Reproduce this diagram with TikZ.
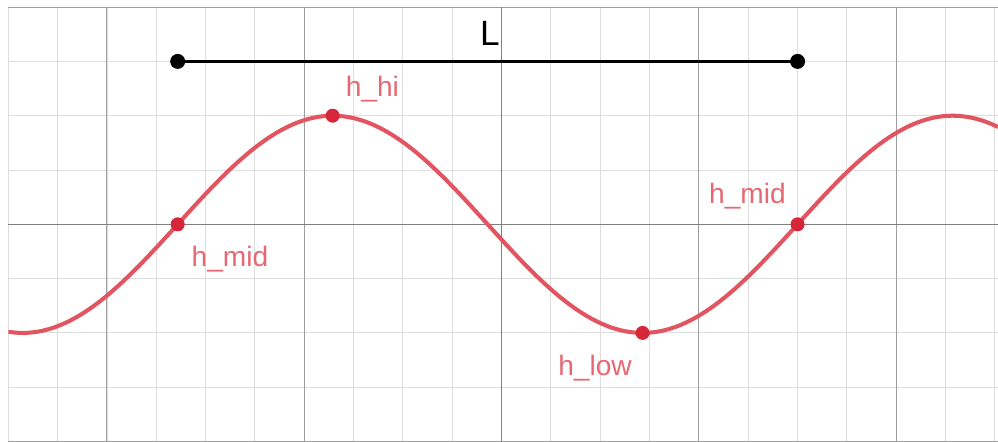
\documentclass[tikz,border=0pt]{standalone}
\usepackage{fontspec}
\setmainfont{Liberation Sans}
\usepackage{xcolor}
\usepackage{tikz}

\definecolor{wavered}{RGB}{226,84,96}
\definecolor{dotred}{RGB}{214,38,58}
\definecolor{labelred}{RGB}{229,104,114}

\begin{document}
\begin{tikzpicture}[
  x=0.9866cm, y=1.086cm,
  minorgrid/.style={draw=black!13, line width=0.5pt},
  majorgrid/.style={draw=black!38, line width=0.6pt},
  axis/.style={draw=black!50, line width=0.7pt},
  wave/.style={draw=wavered, line width=2.3pt},
  pt/.style={circle, fill=dotred, inner sep=0pt, minimum size=0.28cm},
  endpt/.style={circle, fill=black, inner sep=0pt, minimum size=0.3cm},
  lbl/.style={text=labelred, anchor=base, inner sep=0pt, font=\fontsize{16}{18}\selectfont},
  seg/.style={line width=1.7pt, black}
]
  \useasboundingbox (-10.168,-4.009) rectangle (10.063,4.131);

  \draw[minorgrid] (-10,-4) grid[step=1] (10.063,4);
  \draw[majorgrid] (-10,-4) grid[step=4] (10.063,4);
  \draw[axis] (-10,0) -- (10.063,0);
  \draw[axis] (0,-4) -- (0,4);

  \begin{scope}
    \clip (-10,-4) rectangle (10.063,4);
    \draw[wave] plot[domain=-10:10.063, samples=200, smooth] (\x,{2*sin(((\x-6)/2) r)});
  \end{scope}

  \node[endpt] (lstart) at (-6.566,3) {};
  \node[endpt] (lend) at (6,3) {};
  \draw[seg] (lstart.center) -- (lend.center);
  \node[anchor=base, inner sep=0pt, font=\fontsize{20}{24}\selectfont] (len) at (-0.235,3.30) {L};

  \node[pt] (mid1) at (-6.566,0) {};
  \node[pt] (hi) at (-3.425,2) {};
  \node[pt] (low) at (2.858,-2) {};
  \node[pt] (mid2) at (6,0) {};

  \node[lbl] (hilbl) at (-2.62,2.36) {h\_hi};
  \node[lbl] (mid1lbl) at (-5.505,-0.77) {h\_mid};
  \node[lbl] (mid2lbl) at (4.985,0.39) {h\_mid};
  \node[lbl] (lowlbl) at (1.895,-2.78) {h\_low};
\end{tikzpicture}
\end{document}
